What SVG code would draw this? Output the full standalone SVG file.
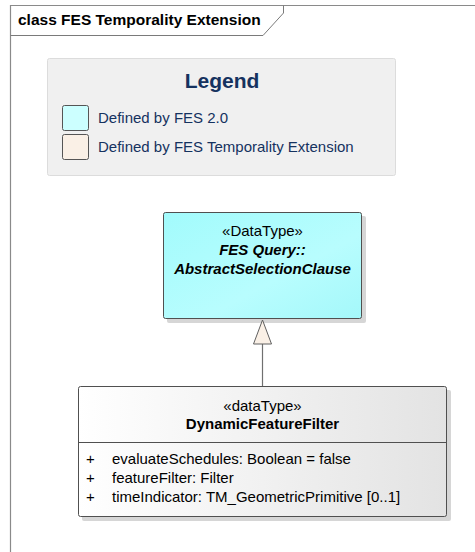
<svg xmlns="http://www.w3.org/2000/svg" width="475" height="552" viewBox="0 0 475 552">
<defs>
<linearGradient id="gCyan" x1="0" y1="0" x2="1" y2="1">
<stop offset="0" stop-color="#A2FBFC"/>
<stop offset="0.6" stop-color="#B8FDFE"/>
<stop offset="1" stop-color="#A4F8FA"/>
</linearGradient>
<linearGradient id="gGray" x1="0" y1="0" x2="1" y2="0">
<stop offset="0" stop-color="#FFFFFF"/>
<stop offset="1" stop-color="#E3E3E3"/>
</linearGradient>
<style>
.t{font-family:"Liberation Sans",Arial,sans-serif;font-size:15px;fill:#000}
.b{font-weight:bold}
.bi{font-weight:bold;font-style:italic}
.lg{font-family:"Liberation Sans",Arial,sans-serif;font-size:15px;fill:#15325F}
.box{stroke:#505050;stroke-width:1}
.shadow{fill:#D6D6D6}
</style>
</defs>
<rect width="475" height="552" fill="#FFFFFF"/>
<g id="frame">
<path d="M10.5,552 V5.5 H475" fill="none" stroke="#8A8A8A" stroke-width="1.2"/>
<path d="M10.5,35.5 H263 L283.5,13 V5.5" fill="none" stroke="#7A7A7A" stroke-width="1"/>
<text x="18" y="25" class="t b" style="font-size:15.5px">class FES Temporality Extension</text>
</g>
<g id="legend">
<rect x="47.5" y="58.5" width="348" height="117" rx="2" fill="#F0F0F0" stroke="#DCDCDC"/>
<text x="222" y="88" text-anchor="middle" font-family="'Liberation Sans',Arial,sans-serif" font-size="21" font-weight="bold" fill="#15325F">Legend</text>
<rect x="62.5" y="105.5" width="26" height="25" rx="2" fill="#CCFFFF" stroke="#555555"/>
<text x="98" y="123" class="lg">Defined by FES 2.0</text>
<rect x="62.5" y="134.5" width="26" height="25" rx="2" fill="#FAF0E6" stroke="#555555"/>
<text x="98" y="152" class="lg">Defined by FES Temporality Extension</text>
</g>
<g id="AbstractSelectionClause">
<rect x="167" y="216" width="199" height="107" class="shadow" rx="2"/>
<rect x="163.5" y="212.5" width="198" height="106" rx="2" fill="url(#gCyan)" class="box"/>
<text x="262.5" y="236" text-anchor="middle" class="t">«DataType»</text>
<text x="262.5" y="255" text-anchor="middle" class="t bi">FES Query::</text>
<text x="262.5" y="274" text-anchor="middle" class="t bi">AbstractSelectionClause</text>
</g>
<g id="DynamicFeatureFilter">
<rect x="82" y="390" width="369" height="131" class="shadow" rx="2"/>
<rect x="78.5" y="386.5" width="368" height="130" rx="2" fill="url(#gGray)" class="box"/>
<line x1="78.5" y1="442.5" x2="446.5" y2="442.5" stroke="#505050"/>
<text x="262.5" y="411" text-anchor="middle" class="t">«dataType»</text>
<text x="262.5" y="429" text-anchor="middle" class="t b">DynamicFeatureFilter</text>
<text x="86" y="464" class="t">+</text>
<text x="112" y="464" class="t">evaluateSchedules: Boolean = false</text>
<text x="86" y="483" class="t">+</text>
<text x="112" y="483" class="t">featureFilter: Filter</text>
<text x="86" y="502" class="t">+</text>
<text x="112" y="502" class="t">timeIndicator: TM_GeometricPrimitive [0..1]</text>
</g>
<g id="connectors">
<line x1="262.5" y1="344" x2="262.5" y2="386" stroke="#707070" stroke-width="1.2"/>
<polygon points="262.5,320 253.5,344 271.5,344" fill="#FAF0E6" stroke="#606060" stroke-width="1"/>
</g>
</svg>
